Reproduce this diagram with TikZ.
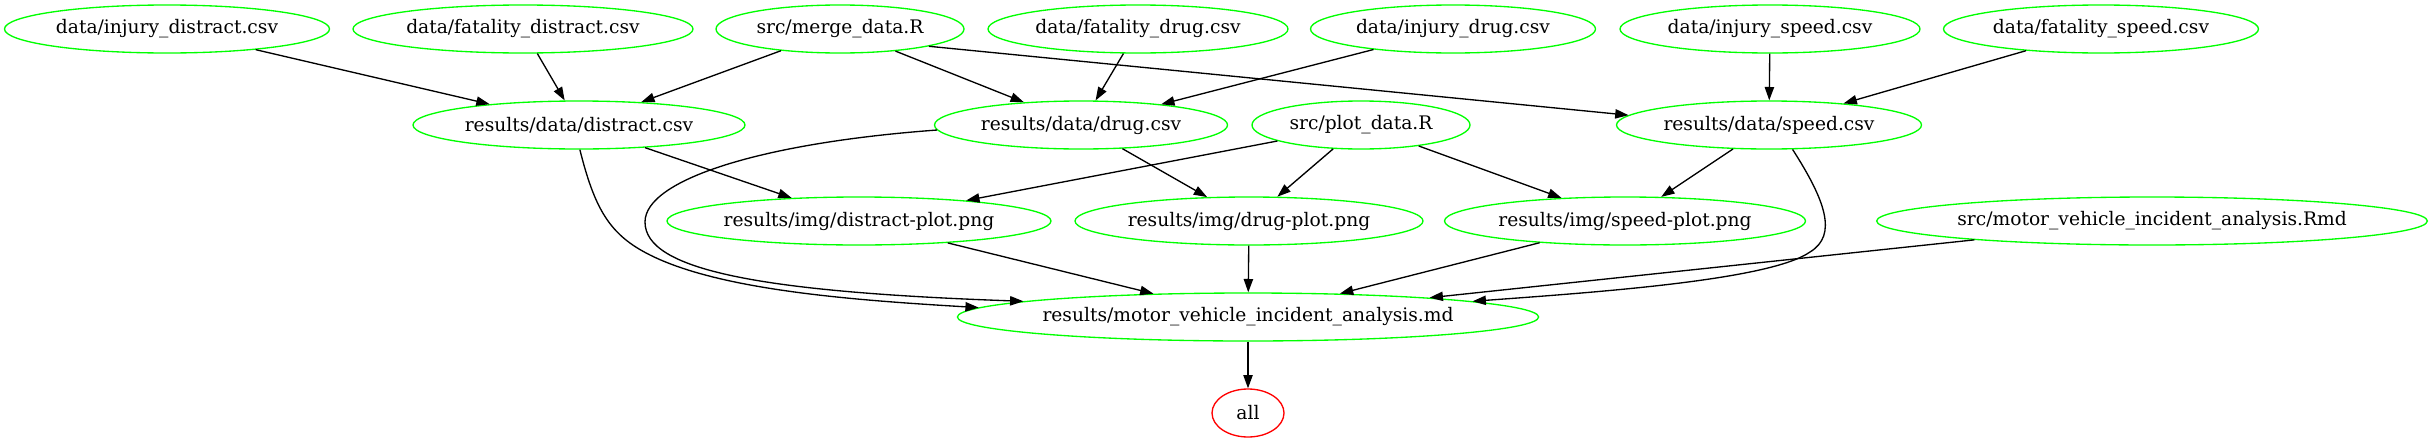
\documentclass[tikz,border=0pt]{standalone}
\usepackage{fontspec}
\setmainfont{DejaVu Serif}
\usetikzlibrary{shapes.geometric,arrows.meta}
\tikzstyle{file}=[draw=green,ellipse,line width=1pt,inner sep=0pt,minimum height=36pt,font=\fontsize{14}{16}\selectfont]
\tikzstyle{target}=[file,draw=red]
\tikzstyle{dep}=[line width=1pt,-{Triangle[length=10pt,width=7pt]}]
\begin{document}
\begin{tikzpicture}[x=0.75pt,y=-0.75pt]
  \useasboundingbox (0,0) rectangle (2430,443);
  \node[file,minimum width=243.75pt] (injdistract) at (167,29) {data/injury\_distract.csv};
  \node[file,minimum width=255pt] (fataldistract) at (523,29) {data/fatality\_distract.csv};
  \node[file,minimum width=186pt] (merge) at (840,29) {src/merge\_data.R};
  \node[file,minimum width=225pt] (fataldrug) at (1138,29) {data/fatality\_drug.csv};
  \node[file,minimum width=213.75pt] (injdrug) at (1453,29) {data/injury\_drug.csv};
  \node[file,minimum width=225pt] (injspeed) at (1770,29) {data/injury\_speed.csv};
  \node[file,minimum width=236.25pt] (fatalspeed) at (2101,29) {data/fatality\_speed.csv};
  \node[file,minimum width=249pt] (distract) at (579,125) {results/data/distract.csv};
  \node[file,minimum width=219.75pt] (drug) at (1081,125) {results/data/drug.csv};
  \node[file,minimum width=163.5pt] (plot) at (1361,125) {src/plot\_data.R};
  \node[file,minimum width=228.75pt] (speed) at (1769,125) {results/data/speed.csv};
  \node[file,minimum width=288pt] (distractplot) at (859,221) {results/img/distract-plot.png};
  \node[file,minimum width=261pt] (drugplot) at (1249,221) {results/img/drug-plot.png};
  \node[file,minimum width=270.75pt] (speedplot) at (1625,221) {results/img/speed-plot.png};
  \node[file,minimum width=408pt] (rmd) at (2152,221) {src/motor\_vehicle\_incident\_analysis.Rmd};
  \node[file,minimum width=429pt] (report) at (1248,317) {results/motor\_vehicle\_incident\_analysis.md};
  \node[target,minimum width=54pt] (all) at (1248,413) {all};

  \foreach \a/\b in {injdistract/distract, fataldistract/distract, merge/distract, merge/drug,
      fataldrug/drug, injdrug/drug, injspeed/speed, fatalspeed/speed,
      distract/distractplot, drug/drugplot, plot/distractplot, plot/drugplot, plot/speedplot,
      speed/speedplot, distractplot/report, drugplot/report, speedplot/report, rmd/report, report/all}
    \draw[dep] (\a) -- (\b);
  \draw[dep] (merge.-11) -- (speed.176);
  \draw[dep] (distract.-88) .. controls (595,210) and (610,235) .. (650,255)
    .. controls (720,290) and (850,300) .. (report.178);
  \draw[dep] (drug.182) .. controls (760,143) and (645,180) .. (645,222)
    .. controls (645,270) and (760,292) .. (report.176);
  \draw[dep] (speed.-46) .. controls (1825,200) and (1838,235) .. (1810,252)
    .. controls (1770,280) and (1600,292) .. (report.4);
\end{tikzpicture}
\end{document}
